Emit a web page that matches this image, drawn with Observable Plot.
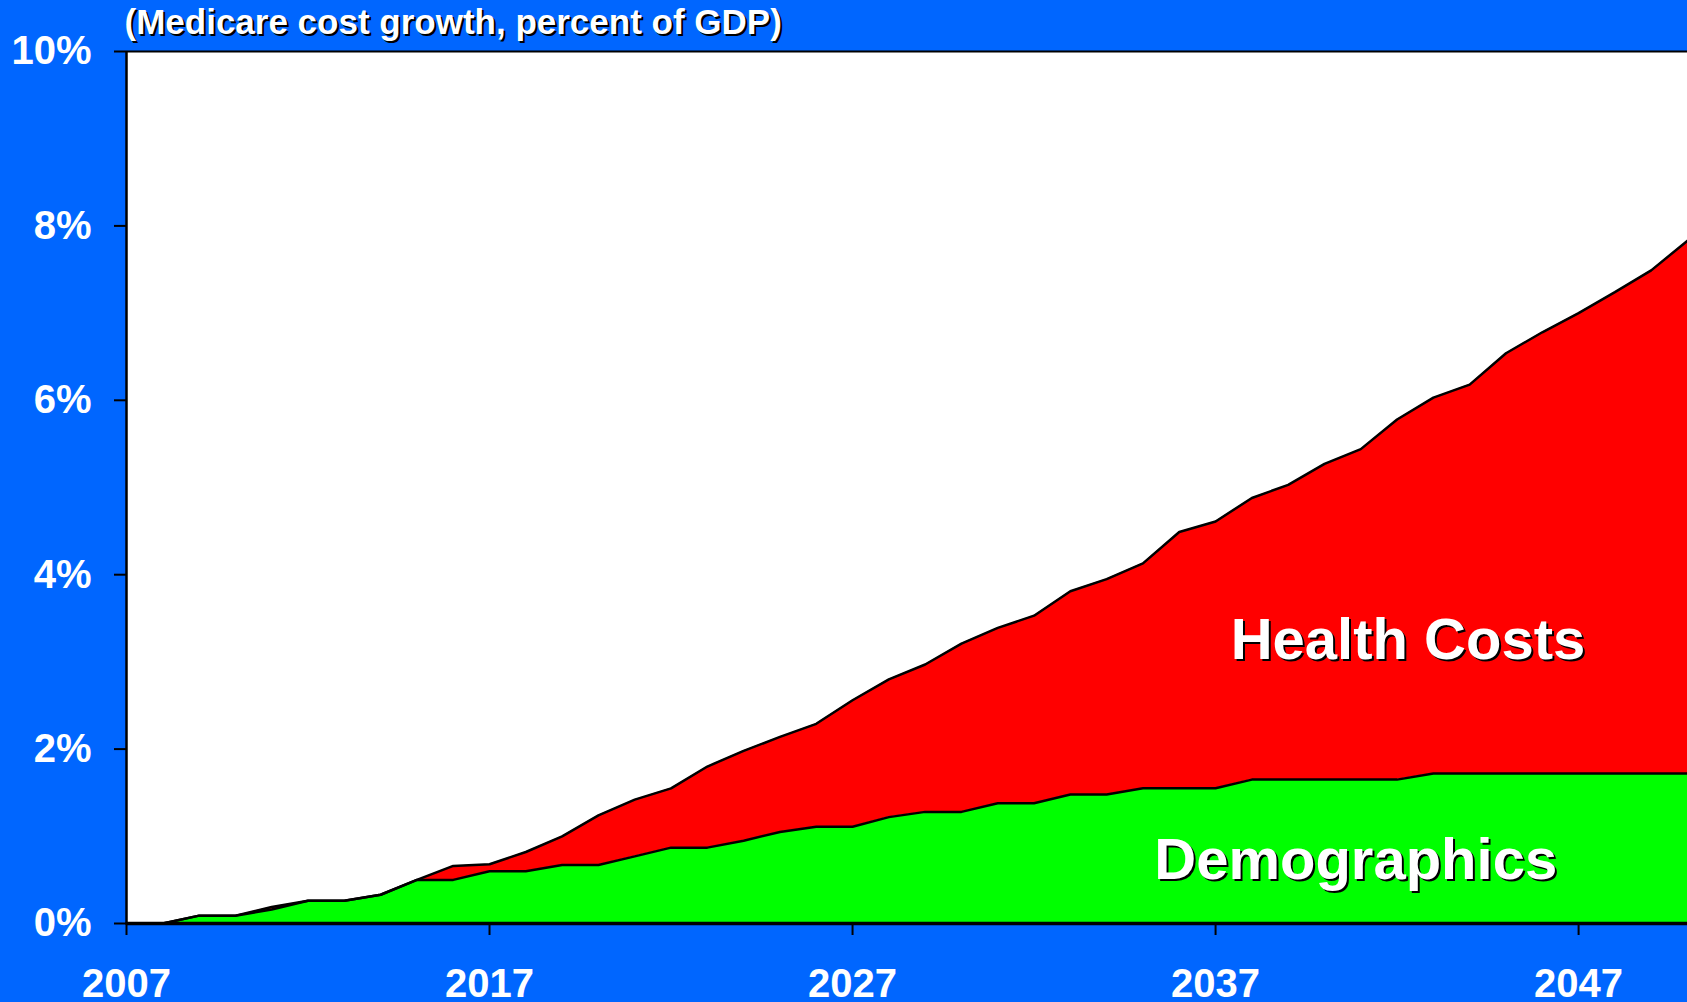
<!DOCTYPE html>
<html>
<head>
<meta charset="utf-8">
<script src="https://cdn.jsdelivr.net/npm/d3@7"></script>
<script src="https://cdn.jsdelivr.net/npm/@observablehq/plot@0.6"></script>
<style>
  html, body { margin: 0; padding: 0; background: #0066ff; overflow: hidden; }
  #chart svg { display: block; }
</style>
</head>
<body>
<div id="chart"></div>
<script>
// ---- Data ----
const titleText = "(Medicare cost growth, percent of GDP)";
const years = [2007, 2008, 2009, 2010, 2011, 2012, 2013, 2014, 2015, 2016,
               2017, 2018, 2019, 2020, 2021, 2022, 2023, 2024, 2025, 2026,
               2027, 2028, 2029, 2030, 2031, 2032, 2033, 2034, 2035, 2036,
               2037, 2038, 2039, 2040, 2041, 2042, 2043, 2044, 2045, 2046,
               2047, 2048, 2049, 2050];
const seriesNames = ["Demographics", "Health Costs"];
const seriesColors = ["#00ff00", "#ff0000"];
const demographics = [0, 0, 0.09, 0.09, 0.16, 0.26, 0.26, 0.33, 0.50, 0.50,
                      0.60, 0.60, 0.67, 0.67, 0.77, 0.87, 0.87, 0.95, 1.05, 1.11,
                      1.11, 1.22, 1.28, 1.28, 1.38, 1.38, 1.48, 1.48, 1.55, 1.55,
                      1.55, 1.65, 1.65, 1.65, 1.65, 1.65, 1.72, 1.72, 1.72, 1.72,
                      1.72, 1.72, 1.72, 1.72];
const healthCosts = [0, 0, 0, 0, 0.03, 0, 0, 0, 0, 0.16,
                     0.08, 0.22, 0.33, 0.57, 0.65, 0.68, 0.93, 1.03, 1.09, 1.18,
                     1.45, 1.58, 1.69, 1.93, 2.01, 2.15, 2.33, 2.47, 2.58, 2.94,
                     3.06, 3.23, 3.38, 3.62, 3.79, 4.13, 4.31, 4.46, 4.82, 5.06,
                     5.28, 5.52, 5.77, 6.11];
const xTicks = [2007, 2017, 2027, 2037, 2047];
const xTickLabels = ["2007", "2017", "2027", "2037", "2047"];
const yTicks = [0, 2, 4, 6, 8, 10];
const yTickLabels = ["0%", "2%", "4%", "6%", "8%", "10%"];
const areaLabels = ["Health Costs", "Demographics"];

// ---- Build table ----
const seriesValues = [demographics, healthCosts];
const rows = [];
seriesNames.forEach((name, s) => {
  years.forEach((yr, i) => rows.push({year: yr, series: name, value: seriesValues[s][i]}));
});

// annotation placement (data coordinates)
const labelRows = [
  {text: areaLabels[0], year: 2042.3, value: 3.25},
  {text: areaLabels[1], year: 2040.86, value: 0.72}
];

const fontFamily = '"Liberation Sans", Arial, Helvetica, sans-serif';

const chart = Plot.plot({
  width: 1687,
  height: 1002,
  marginTop: 51,
  marginBottom: 79,
  marginLeft: 126,
  marginRight: 0,
  style: `background: transparent; font-family: ${fontFamily}; font-weight: bold; overflow: visible;`,
  x: {domain: [2007, 2050]},
  y: {domain: [0, 10]},
  color: {domain: seriesNames, range: seriesColors},
  marks: [
    Plot.frame({fill: "white", stroke: "none"}),
    Plot.areaY(rows, {x: "year", y: "value", z: "series", fill: "series", order: seriesNames}),
    Plot.lineY(rows, Plot.stackY2({x: "year", y: "value", z: "series", order: seriesNames,
      stroke: "black", strokeWidth: 2.5, strokeLinejoin: "miter"})),
    Plot.ruleY([10], {stroke: "black", strokeWidth: 2}),
    Plot.ruleX([2007], {stroke: "black", strokeWidth: 2.5}),
    Plot.ruleY([0], {stroke: "black", strokeWidth: 3.5}),
    Plot.axisY({ticks: yTicks, tickFormat: (d) => yTickLabels[yTicks.indexOf(d)],
      tickSize: 12, tickPadding: 23, stroke: "black", strokeWidth: 2, fill: "white",
      fontSize: 40, fontWeight: "bold", fontFamily, label: null}),
    Plot.axisX({ticks: xTicks, tickFormat: (d) => xTickLabels[xTicks.indexOf(d)],
      tickSize: 12, tickPadding: 33, stroke: "black", strokeWidth: 2, fill: "white",
      fontSize: 40, fontWeight: "bold", fontFamily, label: null}),
    // title with drop shadow
    Plot.text([titleText], {text: (d) => d, frameAnchor: "top-left", textAnchor: "start",
      dx: 0, dy: -40, fill: "black", fontSize: 35, fontWeight: "bold", fontFamily}),
    Plot.text([titleText], {text: (d) => d, frameAnchor: "top-left", textAnchor: "start",
      dx: -2, dy: -42, fill: "white", fontSize: 35, fontWeight: "bold", fontFamily}),
    // area labels with drop shadow
    Plot.text(labelRows, {x: "year", y: "value", text: "text", dx: 2, dy: 2,
      fill: "black", fontSize: 58, fontWeight: "bold", fontFamily}),
    Plot.text(labelRows, {x: "year", y: "value", text: "text",
      fill: "white", fontSize: 58, fontWeight: "bold", fontFamily})
  ]
});

document.getElementById("chart").appendChild(chart);
</script>
</body>
</html>
